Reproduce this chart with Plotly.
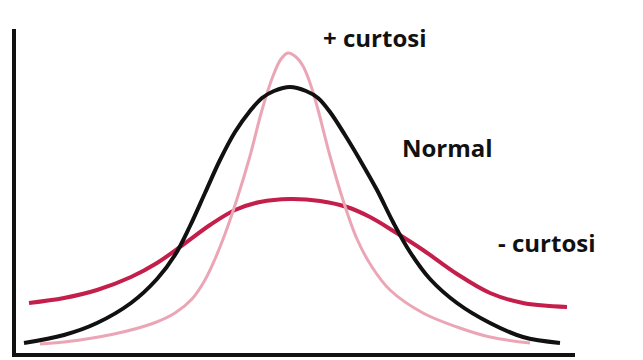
import plotly.graph_objects as go

# Curves: x position, height above the x axis (pixel-like units)
normal_x = [10, 50, 83, 117, 143, 161, 176, 191, 206, 221, 236, 248, 260, 276, 292, 304, 316, 331, 346, 363, 379, 396, 416, 443, 476, 509, 546]
normal_y = [13, 21, 33, 53, 77, 101, 130, 163, 196, 224, 245, 258, 265, 269, 265, 258, 244, 221, 196, 166, 134, 104, 77, 53, 33, 19, 13]

neg_x = [15, 50, 83, 117, 143, 170, 196, 221, 246, 276, 306, 333, 356, 381, 409, 443, 476, 509, 553]
neg_y = [53, 58, 66, 79, 93, 112, 131, 146, 154, 157, 155, 149, 139, 124, 106, 82, 63, 53, 49]

pos_x = [26, 50, 100, 140, 161, 178, 191, 201, 211, 223, 236, 248, 259, 267, 274, 282, 289, 296, 303, 316, 329, 343, 358, 376, 409, 443, 476, 516]
pos_y = [12, 14, 22, 33, 43, 57, 76, 97, 122, 157, 200, 246, 280, 297, 303, 299, 290, 273, 250, 200, 156, 117, 89, 66, 43, 29, 19, 13]

labels = ["+ curtosi", "Normal", "- curtosi"]
label_x = [307, 386, 482]
label_y = [319, 209, 114]

fig = go.Figure()
fig.add_trace(go.Scatter(x=neg_x, y=neg_y, mode="lines", line=dict(color="#c41e4a", width=4, shape="spline"), hoverinfo="skip"))
fig.add_trace(go.Scatter(x=pos_x, y=pos_y, mode="lines", line=dict(color="#eba6b6", width=3, shape="spline"), hoverinfo="skip"))
fig.add_trace(go.Scatter(x=normal_x, y=normal_y, mode="lines", line=dict(color="#111111", width=4, shape="spline"), hoverinfo="skip"))

for t, x, y in zip(labels, label_x, label_y):
    fig.add_annotation(x=x, y=y, text="<b>%s</b>" % t, showarrow=False, xanchor="left", yanchor="middle",
                       font=dict(family="Open Sans", size=24, color="#111111"))

fig.update_layout(
    width=643, height=360,
    margin=dict(l=16, r=68, t=29, b=7),
    paper_bgcolor="white", plot_bgcolor="white",
    showlegend=False,
    xaxis=dict(range=[2, 561], showgrid=False, zeroline=False, showticklabels=False, ticks="",
               showline=True, linecolor="#111111", linewidth=4),
    yaxis=dict(range=[3, 327], showgrid=False, zeroline=False, showticklabels=False, ticks="",
               showline=True, linecolor="#111111", linewidth=4),
)
fig.write_html("out.html", config={"displayModeBar": False},
               post_script="document.body.style.margin='0px';document.body.style.overflow='hidden';")
